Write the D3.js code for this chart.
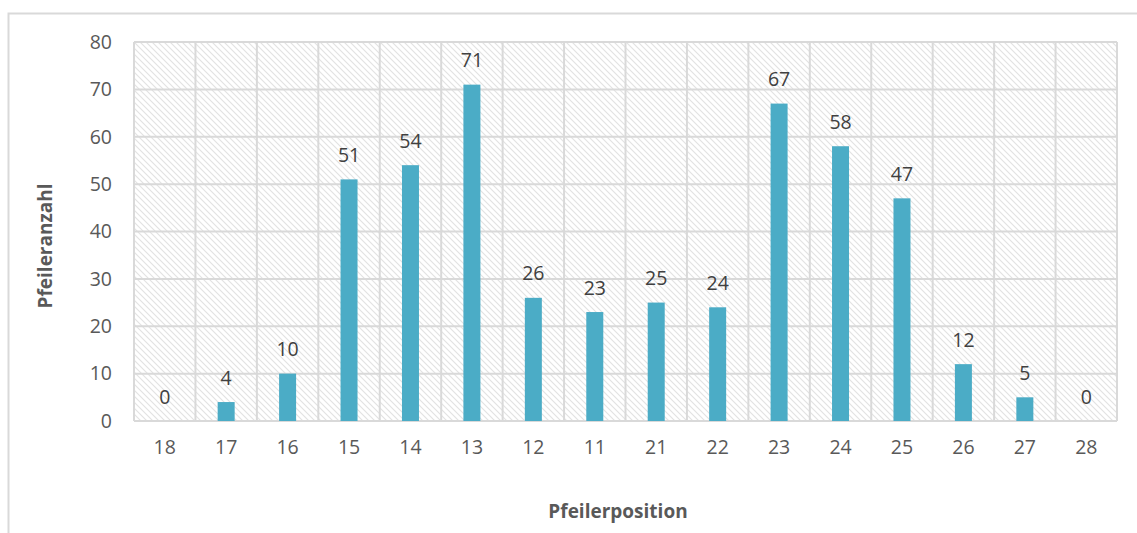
<!DOCTYPE html>
<html>
<head>
<meta charset="utf-8">
<script src="https://cdn.jsdelivr.net/npm/d3@7"></script>
<style>
  html, body { margin: 0; padding: 0; background: #fff; }
  svg { display: block; font-family: "Open Sans", "Noto Sans", sans-serif; }
</style>
</head>
<body>
<svg id="chart" width="1137" height="533"></svg>
<script>
// Pillar positions in display order and the number of pillars counted at each
const positions = ["18", "17", "16", "15", "14", "13", "12", "11", "21", "22", "23", "24", "25", "26", "27", "28"];
const counts = [0, 4, 10, 51, 54, 71, 26, 23, 25, 24, 67, 58, 47, 12, 5, 0];
const yTicks = [0, 10, 20, 30, 40, 50, 60, 70, 80];

const svg = d3.select("#chart");
const W = 1137, H = 533;
const margin = { left: 134, right: 20, top: 42, bottom: 112 };
const plotW = W - margin.left - margin.right;
const plotH = H - margin.top - margin.bottom;

const gridColor = "#d9d9d9";
const textColor = "#595959";
const barColor = "#4bacc6";
const fontSize = 19.5;

// Diagonal hatch fill for the plot background
const defs = svg.append("defs");
const pat = defs.append("pattern")
  .attr("id", "hatch")
  .attr("patternUnits", "userSpaceOnUse")
  .attr("width", 6).attr("height", 6);
pat.append("rect").attr("width", 6).attr("height", 6).attr("fill", "#fff");
pat.append("path")
  .attr("d", "M-1,-1 L7,7 M-4,2 L2,8 M4,-2 L8,2")
  .attr("stroke", "#e2e2e2").attr("stroke-width", 1.1);

// Outer chart frame
svg.append("path")
  .attr("d", `M8.5,${H} L8.5,13.5 L${W},13.5`)
  .attr("fill", "none").attr("stroke", gridColor).attr("stroke-width", 2);

const g = svg.append("g").attr("transform", `translate(${margin.left},${margin.top})`);

const x = d3.scaleBand().domain(positions).range([0, plotW]).paddingInner(0).paddingOuter(0);
const y = d3.scaleLinear().domain([0, 80]).range([plotH, 0]);

g.append("rect").attr("width", plotW).attr("height", plotH).attr("fill", "url(#hatch)");

// Horizontal gridlines
g.selectAll(".hgrid").data(yTicks).join("line")
  .attr("x1", 0).attr("x2", plotW)
  .attr("y1", d => y(d)).attr("y2", d => y(d))
  .attr("stroke", gridColor).attr("stroke-width", 2);

// Vertical gridlines at category boundaries
const bounds = positions.map(p => x(p)).concat([plotW]);
g.selectAll(".vgrid").data(bounds).join("line")
  .attr("x1", d => d).attr("x2", d => d)
  .attr("y1", 0).attr("y2", plotH)
  .attr("stroke", gridColor).attr("stroke-width", 2);

// Bars
const barW = 17;
g.selectAll(".bar").data(counts).join("rect")
  .attr("x", (d, i) => x(positions[i]) + x.bandwidth() / 2 - barW / 2)
  .attr("y", d => y(d))
  .attr("width", barW)
  .attr("height", d => y(0) - y(d))
  .attr("fill", barColor);

// Value labels
g.selectAll(".val").data(counts).join("text")
  .attr("x", (d, i) => x(positions[i]) + x.bandwidth() / 2)
  .attr("y", d => y(d) - 25)
  .attr("text-anchor", "middle")
  .attr("dominant-baseline", "central")
  .attr("font-size", fontSize).attr("fill", "#404040")
  .text(d => d);

// Y axis labels
const yAxis = d3.axisLeft(y).tickValues(yTicks).tickSize(0).tickPadding(22);
const ya = g.append("g").call(yAxis);
ya.select(".domain").remove();
ya.selectAll("text").attr("font-size", fontSize).attr("fill", textColor)
  .attr("font-family", "'Open Sans', sans-serif");

// X axis labels
const xAxis = d3.axisBottom(x).tickSize(0).tickPadding(19);
const xa = g.append("g").attr("transform", `translate(0,${plotH})`).call(xAxis);
xa.select(".domain").remove();
xa.selectAll("text").attr("font-size", fontSize).attr("fill", textColor)
  .attr("font-family", "'Open Sans', sans-serif");

// Axis titles
svg.append("text")
  .attr("x", 618).attr("y", 511)
  .attr("text-anchor", "middle").attr("dominant-baseline", "central")
  .attr("font-size", 19).attr("font-weight", "bold").attr("fill", textColor)
  .text("Pfeilerposition");

svg.append("text")
  .attr("transform", `translate(45,246) rotate(-90)`)
  .attr("text-anchor", "middle").attr("dominant-baseline", "central")
  .attr("font-size", 19).attr("font-weight", "bold").attr("fill", textColor)
  .text("Pfeileranzahl");
</script>
</body>
</html>
